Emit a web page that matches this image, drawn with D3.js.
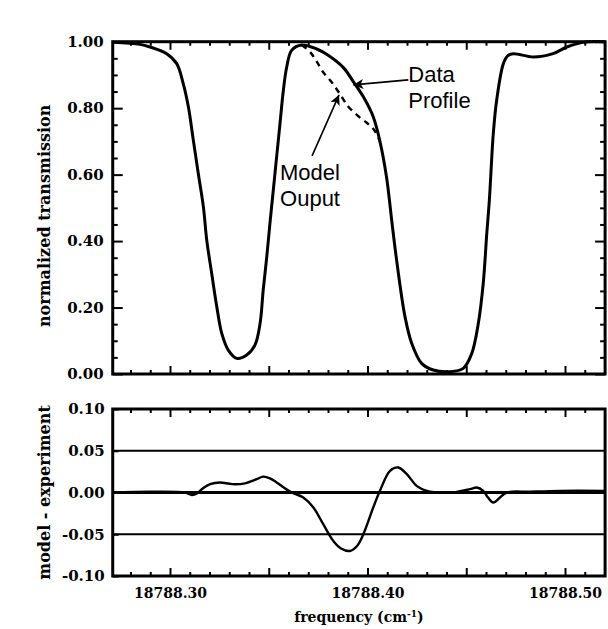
<!DOCTYPE html>
<html>
<head>
<meta charset="utf-8">
<script src="https://cdn.jsdelivr.net/npm/d3@7"></script>
<style>
  html, body { margin: 0; padding: 0; background: #fff; }
  svg { display: block; }
</style>
</head>
<body>
<svg id="chart" width="608" height="629"></svg>
<script>
// ---------- data ----------
const dataFreq = [18788.2712, 18788.2848, 18788.2899, 18788.2983, 18788.3034, 18788.3067, 18788.3093, 18788.3118,
  18788.3143, 18788.3169, 18788.3186, 18788.3211, 18788.3237, 18788.3262, 18788.3295, 18788.3338, 18788.3388,
  18788.3430, 18788.3456, 18788.3472, 18788.3490, 18788.3506, 18788.3523, 18788.3540, 18788.3557, 18788.3574,
  18788.3591, 18788.3616, 18788.3667, 18788.3743, 18788.3793, 18788.3878, 18788.3928, 18788.3979, 18788.4029,
  18788.4063, 18788.4097, 18788.4123, 18788.4148, 18788.4190, 18788.4224, 18788.4274, 18788.4333, 18788.4418,
  18788.4485, 18788.4528, 18788.4561, 18788.4586, 18788.4604, 18788.4617, 18788.4637, 18788.4654, 18788.4688,
  18788.4711, 18788.4738, 18788.4840, 18788.4939, 18788.5009, 18788.5091, 18788.5202];
const dataTrans = [0.998, 0.992, 0.984, 0.964, 0.934, 0.874, 0.804, 0.704,
  0.604, 0.503, 0.403, 0.303, 0.202, 0.122, 0.072, 0.047, 0.057,
  0.087, 0.152, 0.253, 0.353, 0.453, 0.553, 0.654, 0.754, 0.854,
  0.924, 0.974, 0.990, 0.978, 0.962, 0.922, 0.880, 0.834, 0.774,
  0.700, 0.590, 0.460, 0.340, 0.172, 0.092, 0.032, 0.012, 0.007,
  0.017, 0.062, 0.152, 0.273, 0.423, 0.523, 0.724, 0.824, 0.934,
  0.958, 0.964, 0.954, 0.964, 0.984, 0.998, 1.000];

const modelFreq  = [18788.3667, 18788.3711, 18788.3743, 18788.3776, 18788.3819, 18788.3861, 18788.3901, 18788.3957, 18788.3996, 18788.4033, 18788.4063];
const modelTrans = [0.990, 0.968, 0.940, 0.908, 0.878, 0.842, 0.806, 0.774, 0.756, 0.735, 0.700];

const residFreq = [18788.2710, 18788.2899, 18788.3076, 18788.3111, 18788.3137, 18788.3167, 18788.3203, 18788.3253,
  18788.3314, 18788.3380, 18788.3439, 18788.3472, 18788.3506, 18788.3540, 18788.3608, 18788.3675, 18788.3726,
  18788.3776, 18788.3827, 18788.3866, 18788.3911, 18788.3947, 18788.3979, 18788.4029, 18788.4063, 18788.4114,
  18788.4156, 18788.4199, 18788.4249, 18788.4300, 18788.4367, 18788.4433, 18788.4519, 18788.4553, 18788.4586,
  18788.4610, 18788.4637, 18788.4671, 18788.4705, 18788.4823, 18788.4975, 18788.5202];
const residValue = [0.000, 0.001, 0.000, -0.003, -0.001, 0.005, 0.010, 0.012,
  0.010, 0.011, 0.016, 0.019, 0.017, 0.012, 0.001, -0.006, -0.018,
  -0.038, -0.058, -0.067, -0.070, -0.064, -0.050, -0.018, 0.002, 0.026,
  0.030, 0.022, 0.008, 0.002, 0.000, 0.000, 0.004, 0.006, 0.002,
  -0.006, -0.012, -0.006, 0.000, 0.001, 0.002, 0.002];

const xMajorTicks = [18788.30, 18788.35, 18788.40, 18788.45, 18788.50];
const xMinorTicks = [18788.28, 18788.29, 18788.31, 18788.32, 18788.33, 18788.34, 18788.36, 18788.37, 18788.38,
  18788.39, 18788.41, 18788.42, 18788.43, 18788.44, 18788.46, 18788.47, 18788.48, 18788.49, 18788.51, 18788.52];
const xLabelTicks = [18788.30, 18788.40, 18788.50];
const xTickLabels = ["18788.30", "18788.40", "18788.50"];

const yTopMajor = [0.00, 0.20, 0.40, 0.60, 0.80, 1.00];
const yTopMinor = [0.05, 0.10, 0.15, 0.25, 0.30, 0.35, 0.45, 0.50, 0.55, 0.65, 0.70, 0.75, 0.85, 0.90, 0.95];
const yTopLabels = ["0.00", "0.20", "0.40", "0.60", "0.80", "1.00"];

const yBotMajor = [-0.10, -0.05, 0.00, 0.05, 0.10];
const yBotLabels = ["-0.10", "-0.05", "0.00", "0.05", "0.10"];
const refLines = [0.05, 0.00, -0.05];

const annotations = [
  { lines: ["Data", "Profile"], tipF: 18788.3928, tipV: 0.870, tailDx: 55, tailDy: -5, textDx: 55, textDy: -3 },
  { lines: ["Model", "Ouput"], tipF: 18788.3856, tipV: 0.840, tailDx: -27, tailDy: 61, textDx: -59, textDy: 85 }
];

// ---------- layout ----------
const svg = d3.select("#chart");
const xMin = 18788.2710, xMax = 18788.5203;
const x = d3.scaleLinear().domain([18788.30, 18788.50]).range([170, 565]);
const yTop = d3.scaleLinear().domain([0, 1]).range([374, 41.7]);
const yBot = d3.scaleLinear().domain([-0.1, 0.1]).range([576, 409]);

const left = x(xMin), right = x(xMax);
const tickFont = "'DejaVu Serif', serif";

svg.append("defs").append("clipPath").attr("id", "clipTop")
  .append("rect").attr("x", left).attr("y", yTop(1) - 3).attr("width", right - left).attr("height", yTop(0) - yTop(1) + 3);
svg.select("defs").append("clipPath").attr("id", "clipBot")
  .append("rect").attr("x", left).attr("y", yBot(0.1)).attr("width", right - left).attr("height", yBot(-0.1) - yBot(0.1));
svg.select("defs").append("marker").attr("id", "arrow")
  .attr("viewBox", "0 0 10 10").attr("refX", 10).attr("refY", 5)
  .attr("markerWidth", 14).attr("markerHeight", 10).attr("markerUnits", "userSpaceOnUse")
  .attr("orient", "auto")
  .append("path").attr("d", "M0,0 L10,5 L0,10 L2.5,5 Z").attr("fill", "#000");

function styleAxis(g) {
  g.select(".domain").remove();
  g.selectAll(".tick line").attr("stroke", "#000").attr("stroke-width", 2);
  g.selectAll(".tick text").attr("font-family", tickFont).attr("font-weight", "bold").attr("fill", "#000");
}

function xTicks(yPos, dir, withLabels) {
  const ax = dir === "bottom" ? d3.axisBottom(x) : d3.axisTop(x);
  svg.append("g").attr("transform", `translate(0,${yPos})`)
    .call(ax.tickValues(xMinorTicks).tickSize(-4).tickFormat(""))
    .call(styleAxis);
  const ax2 = dir === "bottom" ? d3.axisBottom(x) : d3.axisTop(x);
  const g = svg.append("g").attr("transform", `translate(0,${yPos})`)
    .call(ax2.tickValues(xMajorTicks).tickSize(-8).tickPadding(12)
      .tickFormat(d => {
        const i = xLabelTicks.findIndex(v => Math.abs(v - d) < 1e-6);
        return withLabels && i >= 0 ? xTickLabels[i] : "";
      }))
    .call(styleAxis);
  g.selectAll(".tick text").attr("font-size", 14);
}

// ---------- top panel ----------
xTicks(yTop(1), "top", false);
xTicks(yTop(0), "bottom", false);

svg.append("g").attr("transform", `translate(${left},0)`)
  .call(d3.axisLeft(yTop).tickValues(yTopMinor).tickSize(-5).tickFormat("")).call(styleAxis);
svg.append("g").attr("transform", `translate(${left},0)`)
  .call(d3.axisLeft(yTop).tickValues(yTopMajor).tickSize(-10).tickPadding(9)
    .tickFormat((d, i) => yTopLabels[i])).call(styleAxis)
  .selectAll(".tick text").attr("font-size", 15);
svg.append("g").attr("transform", `translate(${right},0)`)
  .call(d3.axisRight(yTop).tickValues(yTopMinor).tickSize(-5).tickFormat("")).call(styleAxis);
svg.append("g").attr("transform", `translate(${right},0)`)
  .call(d3.axisRight(yTop).tickValues(yTopMajor).tickSize(-10).tickFormat("")).call(styleAxis);

const dataPts = dataFreq.map((f, i) => [f, dataTrans[i]]);
const modelPts = modelFreq.map((f, i) => [f, modelTrans[i]]);
const residPts = residFreq.map((f, i) => [f, residValue[i]]);

const lineTop = d3.line().x(d => x(d[0])).y(d => yTop(d[1])).curve(d3.curveCatmullRom.alpha(0.5));
const lineBot = d3.line().x(d => x(d[0])).y(d => yBot(d[1])).curve(d3.curveCatmullRom.alpha(0.5));

svg.append("path").datum(modelPts).attr("d", lineTop)
  .attr("fill", "none").attr("stroke", "#000").attr("stroke-width", 2.4)
  .attr("stroke-dasharray", "6,5").attr("clip-path", "url(#clipTop)");
svg.append("path").datum(dataPts).attr("d", lineTop)
  .attr("fill", "none").attr("stroke", "#000").attr("stroke-width", 3)
  .attr("stroke-linejoin", "round").attr("clip-path", "url(#clipTop)");

svg.append("rect").attr("x", left).attr("y", yTop(1)).attr("width", right - left).attr("height", yTop(0) - yTop(1))
  .attr("fill", "none").attr("stroke", "#000").attr("stroke-width", 3);

// annotations
annotations.forEach(a => {
  const tx = x(a.tipF), ty = yTop(a.tipV);
  svg.append("line").attr("x1", tx + a.tailDx).attr("y1", ty + a.tailDy).attr("x2", tx).attr("y2", ty)
    .attr("stroke", "#000").attr("stroke-width", 1.6).attr("marker-end", "url(#arrow)");
  const t = svg.append("text").attr("font-family", "'Liberation Sans', Arial, sans-serif")
    .attr("font-size", 22).attr("fill", "#000");
  a.lines.forEach((s, i) => {
    t.append("tspan").attr("x", tx + a.textDx).attr("y", ty + a.textDy + i * 26).text(s);
  });
});

svg.append("text").attr("transform", `translate(50,${(yTop(0) + yTop(1)) / 2 + 8}) rotate(-90)`)
  .attr("text-anchor", "middle").attr("font-family", tickFont).attr("font-weight", "bold")
  .attr("font-size", 16).text("normalized transmission");

// ---------- bottom panel ----------
xTicks(yBot(0.1), "top", false);
xTicks(yBot(-0.1), "bottom", true);

svg.append("g").attr("transform", `translate(${left},0)`)
  .call(d3.axisLeft(yBot).tickValues(yBotMajor).tickSize(-6).tickPadding(8)
    .tickFormat((d, i) => yBotLabels[i])).call(styleAxis)
  .selectAll(".tick text").attr("font-size", 15);

svg.append("g").selectAll("line").data(refLines).join("line")
  .attr("x1", left).attr("x2", right).attr("y1", d => yBot(d)).attr("y2", d => yBot(d))
  .attr("stroke", "#000").attr("stroke-width", d => d === 0 ? 2.8 : 2.2);

svg.append("path").datum(residPts).attr("d", lineBot)
  .attr("fill", "none").attr("stroke", "#000").attr("stroke-width", 2.4)
  .attr("stroke-linejoin", "round").attr("clip-path", "url(#clipBot)");

svg.append("rect").attr("x", left).attr("y", yBot(0.1)).attr("width", right - left).attr("height", yBot(-0.1) - yBot(0.1))
  .attr("fill", "none").attr("stroke", "#000").attr("stroke-width", 3);

svg.append("text").attr("transform", `translate(50,${(yBot(0.1) + yBot(-0.1)) / 2}) rotate(-90)`)
  .attr("text-anchor", "middle").attr("font-family", tickFont).attr("font-weight", "bold")
  .attr("font-size", 16).text("model - experiment");

const xt = svg.append("text").attr("x", (left + right) / 2).attr("y", 622)
  .attr("text-anchor", "middle").attr("font-family", tickFont).attr("font-weight", "bold")
  .attr("font-size", 14);
xt.append("tspan").text("frequency (cm");
xt.append("tspan").attr("font-size", 9).attr("baseline-shift", "super").text("-1");
xt.append("tspan").text(")");
</script>
</body>
</html>
